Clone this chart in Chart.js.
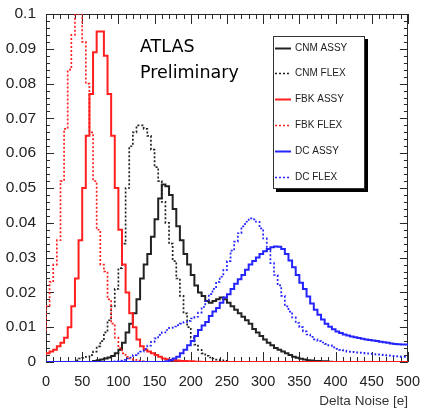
<!DOCTYPE html>
<html>
<head>
<meta charset="utf-8">
<script src="https://cdn.jsdelivr.net/npm/chart.js@4.4.1/dist/chart.umd.min.js"></script>
<style>
  html, body { margin: 0; padding: 0; background: #ffffff; }
  canvas { display: block; }
</style>
</head>
<body>
<canvas id="noise" width="423" height="412"></canvas>
<script>
// Histogram binning of the Delta Noise axis [e]
const BIN_WIDTH = 5;
const X_MIN = 0;
const X_MAX = 500;
const Y_MIN = 0;
const Y_MAX = 0.1;

// Axis tick labels
const X_TICK_VALUES = [0, 50, 100, 150, 200, 250, 300, 350, 400, 450, 500];
const X_TICK_LABELS = ['0', '50', '100', '150', '200', '250', '300', '350', '400', '450', '500'];
const Y_TICK_VALUES = [0, 0.01, 0.02, 0.03, 0.04, 0.05, 0.06, 0.07, 0.08, 0.09, 0.1];
const Y_TICK_LABELS = ['0', '0.01', '0.02', '0.03', '0.04', '0.05', '0.06', '0.07', '0.08', '0.09', '0.1'];

// Series names
const SERIES_NAMES = ['CNM ASSY', 'CNM FLEX', 'FBK ASSY', 'FBK FLEX', 'DC ASSY', 'DC FLEX'];

// Normalised entries per 5 e bin, bins 0-5, 5-10, ... 495-500
const cnmAssy = [
  0, 0, 0, 0, 0, 0, 0, 0, 0, 0,
  0, 0, 0, 0, 0.0003, 0.0005, 0.0007, 0.001, 0.0013, 0.0017,
  0.0025, 0.0035, 0.0055, 0.0085, 0.011, 0.014, 0.018, 0.024, 0.028, 0.031,
  0.036, 0.041, 0.047, 0.051, 0.0505, 0.048, 0.044, 0.039, 0.035, 0.031,
  0.028, 0.025, 0.022, 0.02, 0.019, 0.0175, 0.017, 0.0175, 0.018, 0.0185,
  0.018, 0.017, 0.016, 0.015, 0.014, 0.013, 0.012, 0.011, 0.0095, 0.0085,
  0.0075, 0.0065, 0.0055, 0.0048, 0.004, 0.0035, 0.003, 0.0025, 0.002, 0.0015,
  0.0012, 0.0009, 0.0007, 0.0005, 0.0004, 0.0003, 0.0003, 0.0002, 0.0002, 0.0001,
  0, 0, 0, 0, 0, 0, 0, 0, 0, 0,
  0, 0, 0, 0, 0, 0, 0, 0, 0, 0
];

const cnmFlex = [
  0, 0, 0, 0, 0, 0, 0, 0, 0, 0.0005,
  0.001, 0.0012, 0.0015, 0.002, 0.003, 0.0045, 0.006, 0.0085, 0.012, 0.016,
  0.021, 0.027, 0.034, 0.05, 0.062, 0.066, 0.068, 0.068, 0.067, 0.065,
  0.061, 0.056, 0.052, 0.046, 0.04, 0.034, 0.029, 0.024, 0.019, 0.014,
  0.01, 0.007, 0.005, 0.0035, 0.0025, 0.0018, 0.0013, 0.001, 0.0007, 0.0005,
  0.0003, 0, 0, 0, 0, 0, 0, 0, 0, 0,
  0, 0, 0, 0, 0, 0, 0, 0, 0, 0,
  0, 0, 0, 0, 0, 0, 0, 0, 0, 0,
  0, 0, 0, 0, 0, 0, 0, 0, 0, 0,
  0, 0, 0, 0, 0, 0, 0, 0, 0, 0
];

const fbkAssy = [
  0.002, 0.0025, 0.003, 0.0035, 0.0045, 0.0055, 0.007, 0.01, 0.016, 0.024,
  0.035, 0.05, 0.065, 0.077, 0.089, 0.095, 0.095, 0.088, 0.077, 0.065,
  0.05, 0.038, 0.028, 0.02, 0.014, 0.01, 0.0065, 0.0045, 0.0035, 0.003,
  0.0025, 0.002, 0.0015, 0.001, 0.0008, 0.0006, 0.0005, 0.0004, 0.0003, 0.0003,
  0.0002, 0.0002, 0.0001, 0.0001, 0, 0, 0, 0, 0, 0,
  0, 0, 0, 0, 0, 0, 0, 0, 0, 0,
  0, 0, 0, 0, 0, 0, 0, 0, 0, 0,
  0, 0, 0, 0, 0, 0, 0, 0, 0, 0,
  0, 0, 0, 0, 0, 0, 0, 0, 0, 0,
  0, 0, 0, 0, 0, 0, 0, 0, 0, 0
];

const fbkFlex = [
  0.009, 0.016, 0.023, 0.028, 0.035, 0.052, 0.067, 0.084, 0.094, 0.1,
  0.1, 0.092, 0.08, 0.066, 0.052, 0.038, 0.028, 0.026, 0.018, 0.011,
  0.007, 0.004, 0.0025, 0.0015, 0.001, 0.0006, 0.0004, 0.0002, 0, 0,
  0, 0, 0, 0, 0, 0, 0, 0, 0, 0,
  0, 0, 0, 0, 0, 0, 0, 0, 0, 0,
  0, 0, 0, 0, 0, 0, 0, 0, 0, 0,
  0, 0, 0, 0, 0, 0, 0, 0, 0, 0,
  0, 0, 0, 0, 0, 0, 0, 0, 0, 0,
  0, 0, 0, 0, 0, 0, 0, 0, 0, 0,
  0, 0, 0, 0, 0, 0, 0, 0, 0, 0
];

const dcAssy = [
  0, 0, 0, 0, 0, 0, 0, 0, 0, 0,
  0, 0, 0, 0, 0, 0, 0, 0, 0, 0,
  0, 0, 0, 0, 0, 0, 0, 0, 0, 0,
  0, 0, 0, 0, 0.0002, 0.0005, 0.001, 0.0015, 0.0025, 0.0035,
  0.0048, 0.006, 0.0075, 0.0092, 0.0105, 0.0115, 0.0132, 0.0145, 0.0155, 0.017,
  0.0185, 0.0195, 0.021, 0.0225, 0.0238, 0.025, 0.0265, 0.028, 0.029, 0.03,
  0.031, 0.0318, 0.0325, 0.033, 0.0332, 0.0331, 0.0325, 0.031, 0.0292, 0.0272,
  0.025, 0.0228, 0.021, 0.0188, 0.0168, 0.015, 0.0136, 0.0122, 0.011, 0.0101,
  0.0094, 0.0088, 0.0083, 0.0079, 0.0076, 0.0073, 0.0071, 0.0069, 0.0067, 0.0065,
  0.0063, 0.0062, 0.006, 0.0058, 0.0057, 0.0055, 0.0053, 0.0052, 0.0051, 0.005
];

const dcFlex = [
  0, 0, 0, 0, 0, 0, 0, 0, 0, 0,
  0, 0, 0, 0, 0, 0, 0, 0, 0, 0,
  0.0002, 0.0004, 0.0006, 0.001, 0.0013, 0.002, 0.0025, 0.003, 0.0038, 0.0047,
  0.0058, 0.0068, 0.0078, 0.0085, 0.0092, 0.0098, 0.0102, 0.0106, 0.011, 0.0115,
  0.0118, 0.0125, 0.013, 0.0142, 0.0158, 0.0175, 0.0195, 0.021, 0.023, 0.0245,
  0.0265, 0.029, 0.032, 0.0346, 0.037, 0.039, 0.0403, 0.0413, 0.041, 0.0403,
  0.0384, 0.0355, 0.032, 0.0284, 0.025, 0.022, 0.019, 0.016, 0.0145, 0.0128,
  0.0112, 0.01, 0.0088, 0.0079, 0.0072, 0.0065, 0.006, 0.0056, 0.0052, 0.0048,
  0.0042, 0.0038, 0.0035, 0.0033, 0.003, 0.0029, 0.0028, 0.0027, 0.0026, 0.0025,
  0.0024, 0.0023, 0.0022, 0.0021, 0.002, 0.0019, 0.0018, 0.0017, 0.0016, 0.0015
];

// Turn per-bin contents into step points at the bin edges
function histogramPoints(contents) {
  const pts = contents.map((v, i) => ({ x: X_MIN + i * BIN_WIDTH, y: v }));
  pts.push({ x: X_MIN + contents.length * BIN_WIDTH, y: contents[contents.length - 1] });
  return pts;
}

const RED = '#ff1f1f';
const BLUE = '#2424ff';
const BLACK = '#222222';
const DOTS = [2, 2];

function histo(label, contents, color, dotted, order) {
  return {
    label: label,
    data: histogramPoints(contents),
    borderColor: color,
    backgroundColor: color,
    borderWidth: dotted ? 1.7 : 2,
    borderDash: dotted ? DOTS : [],
    stepped: 'after',
    pointRadius: 0,
    fill: false,
    order: order
  };
}

const datasets = [
  histo(SERIES_NAMES[0], cnmAssy, BLACK, false, 6),
  histo(SERIES_NAMES[1], cnmFlex, BLACK, true, 5),
  histo(SERIES_NAMES[2], fbkAssy, RED, false, 4),
  histo(SERIES_NAMES[3], fbkFlex, RED, true, 3),
  histo(SERIES_NAMES[4], dcAssy, BLUE, false, 2),
  histo(SERIES_NAMES[5], dcFlex, BLUE, true, 1)
];

// Frame with inward major/minor ticks on all four sides
const frameTicks = {
  id: 'frameTicks',
  beforeDatasetsDraw(chart) {
    const { ctx, chartArea: a, scales: { x, y } } = chart;
    ctx.save();
    ctx.strokeStyle = '#2a2a2a';
    ctx.lineWidth = 1;
    ctx.strokeRect(Math.round(a.left) + 0.5, Math.round(a.top) + 0.5,
                   Math.round(a.right - a.left) - 1, Math.round(a.bottom - a.top) - 1);
    ctx.beginPath();
    // x: major every 50, minor every 10
    for (let i = 0; i <= 50; i++) {
      const px = Math.round(x.getPixelForValue(i * 10)) + 0.5;
      const len = (i % 5 === 0) ? 10 : 5;
      ctx.moveTo(px, a.bottom); ctx.lineTo(px, a.bottom - len);
      ctx.moveTo(px, a.top); ctx.lineTo(px, a.top + len);
    }
    // y: major every 0.01, minor every 0.002
    for (let i = 0; i <= 50; i++) {
      const py = Math.round(y.getPixelForValue(i * 0.002)) + 0.5;
      const len = (i % 5 === 0) ? 8 : 4;
      ctx.moveTo(a.left, py); ctx.lineTo(a.left + len, py);
      ctx.moveTo(a.right, py); ctx.lineTo(a.right - len, py);
    }
    ctx.stroke();
    ctx.restore();
  }
};

// Boxed legend with drop shadow plus the ATLAS label
const annotations = {
  id: 'annotations',
  afterDatasetsDraw(chart) {
    const ctx = chart.ctx;
    ctx.save();
    // ATLAS Preliminary
    ctx.fillStyle = '#000000';
    ctx.font = '17.5px "DejaVu Sans", sans-serif';
    ctx.textAlign = 'left';
    ctx.textBaseline = 'alphabetic';
    ctx.fillText('ATLAS', 140, 52);
    ctx.fillText('Preliminary', 140, 78);

    // legend box
    const bx = 273, by = 36, bw = 92, bh = 153;
    ctx.fillStyle = '#000000';
    ctx.fillRect(bx + 3, by + 3, bw, bh);
    ctx.fillStyle = '#ffffff';
    ctx.fillRect(bx, by, bw, bh);
    ctx.strokeStyle = '#333333';
    ctx.lineWidth = 1;
    ctx.strokeRect(bx + 0.5, by + 0.5, bw - 1, bh - 1);

    ctx.font = '10px "Liberation Sans", Arial, sans-serif';
    ctx.textBaseline = 'middle';
    chart.data.datasets.forEach((ds, i) => {
      const cy = Math.round(47.5 + i * 25.8) + 0.5;
      ctx.beginPath();
      ctx.strokeStyle = ds.borderColor;
      ctx.lineWidth = ds.borderDash.length ? 1.5 : 2;
      ctx.setLineDash(ds.borderDash);
      ctx.moveTo(275, cy);
      ctx.lineTo(291, cy);
      ctx.stroke();
      ctx.setLineDash([]);
      ctx.fillStyle = '#222222';
      ctx.fillText(ds.label, 295, cy);
    });
    ctx.restore();
  }
};

new Chart(document.getElementById('noise'), {
  type: 'line',
  data: { datasets: datasets },
  options: {
    responsive: false,
    animation: false,
    devicePixelRatio: 1,
    layout: { padding: { left: 0, top: 14, right: 13, bottom: 0 } },
    plugins: { legend: { display: false }, tooltip: { enabled: false } },
    scales: {
      x: {
        type: 'linear',
        min: X_MIN,
        max: X_MAX,
        afterFit(scale) { scale.height = 50; },
        afterBuildTicks(scale) { scale.ticks = X_TICK_VALUES.map(v => ({ value: v })); },
        grid: { display: false },
        border: { display: false },
        ticks: {
          padding: 3,
          autoSkip: false,
          maxRotation: 0,
          color: '#222222',
          font: { family: '"Liberation Sans", Arial, sans-serif', size: 14.5 },
          callback: (v, i) => X_TICK_LABELS[i]
        },
        title: {
          display: true,
          text: 'Delta Noise [e]',
          align: 'end',
          color: '#333333',
          font: { family: '"Liberation Sans", Arial, sans-serif', size: 13.5 },
          padding: { top: 0, bottom: 3 }
        }
      },
      y: {
        type: 'linear',
        min: Y_MIN,
        max: Y_MAX,
        afterFit(scale) { scale.width = 46; },
        afterBuildTicks(scale) { scale.ticks = Y_TICK_VALUES.map(v => ({ value: v })); },
        grid: { display: false },
        border: { display: false },
        ticks: {
          padding: 2,
          color: '#222222',
          font: { family: '"Liberation Sans", Arial, sans-serif', size: 15.5 },
          callback: (v, i) => Y_TICK_LABELS[i]
        }
      }
    }
  },
  plugins: [frameTicks, annotations]
});
</script>
</body>
</html>
